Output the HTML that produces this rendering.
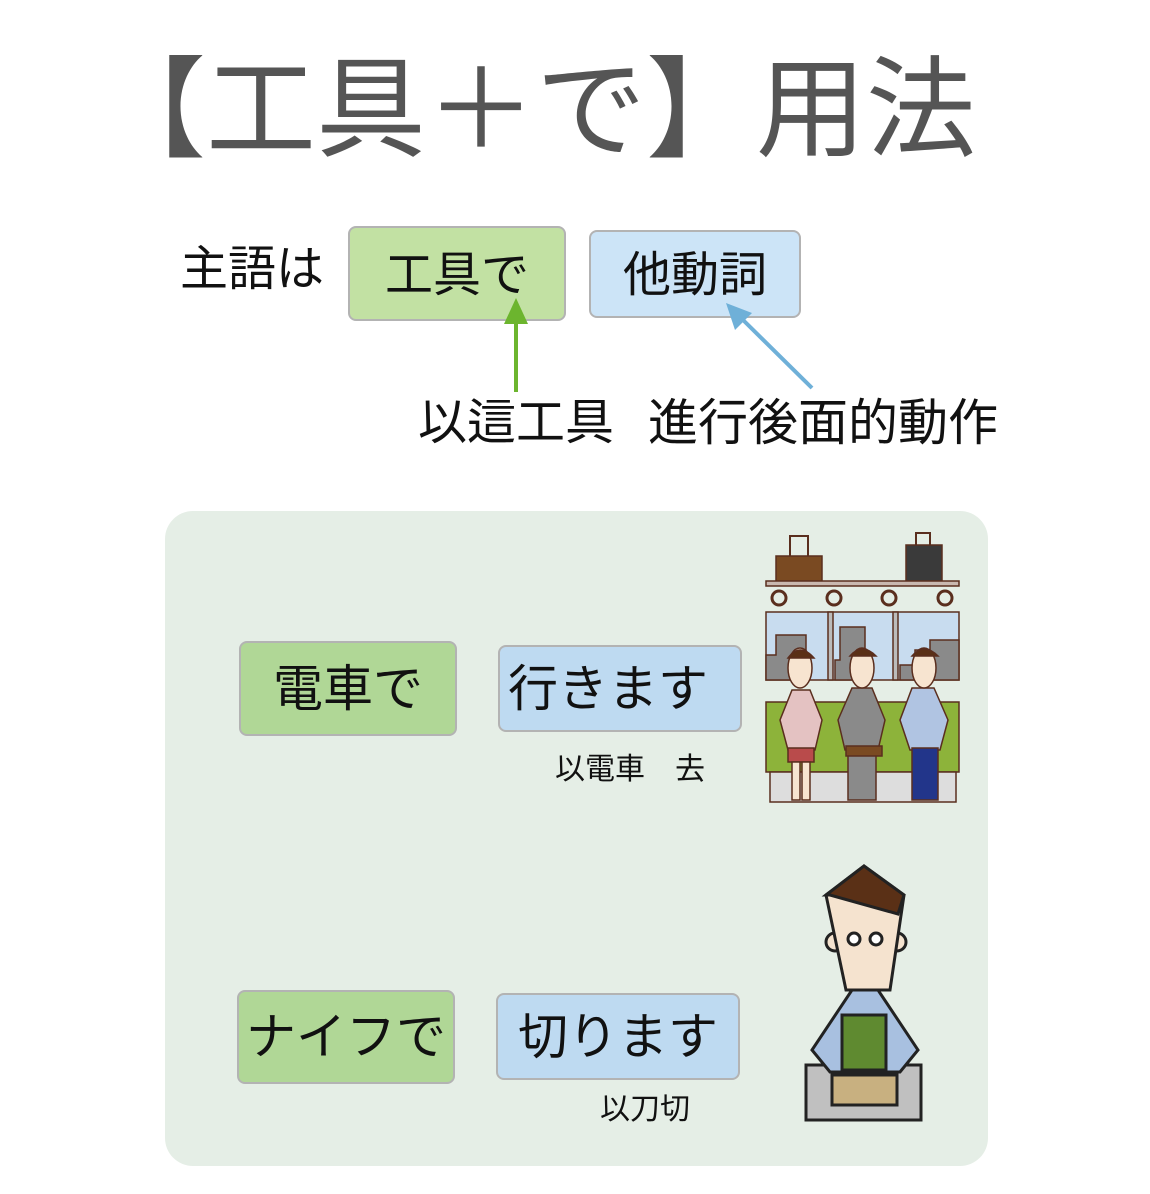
<!DOCTYPE html>
<html><head><meta charset="utf-8"><style>
body{margin:0;width:1150px;height:1194px;background:#fff;position:relative;overflow:hidden;font-family:"Liberation Sans","Noto Sans CJK JP",sans-serif;}
.a{position:absolute;white-space:nowrap;}
.box{position:absolute;box-sizing:border-box;border:2px solid #b3b3b3;border-radius:8px;display:flex;align-items:center;justify-content:center;color:#111;padding-bottom:8px;}
</style></head><body>
<div class="a" style="left:96px;top:56px;font-size:110px;line-height:110px;color:#555;">【工具＋で】用法</div>

<div class="a" style="left:180px;top:242px;font-size:48px;line-height:56px;color:#111;">主語は</div>
<div class="box" style="left:348px;top:226px;width:218px;height:95px;background:#c2e1a3;font-size:48px;">工具で</div>
<div class="box" style="left:589px;top:230px;width:212px;height:88px;background:#cce4f7;font-size:48px;">他動詞</div>

<svg class="a" style="left:0;top:0" width="1150" height="500">
<line x1="516" y1="392" x2="516" y2="318" stroke="#6cb52e" stroke-width="4"/>
<polygon points="516,298 504,324 528,324" fill="#6cb52e"/>
<line x1="812" y1="388" x2="740" y2="317" stroke="#6fb0d8" stroke-width="4"/>
<polygon points="726,303 735,330 752,313" fill="#6fb0d8"/>
</svg>
<div class="a" style="left:418px;top:394px;font-size:49px;line-height:58px;color:#111;">以這工具</div>
<div class="a" style="left:648px;top:394px;font-size:50px;line-height:58px;color:#111;">進行後面的動作</div>

<div class="a" style="left:165px;top:511px;width:823px;height:655px;background:#e5eee6;border-radius:28px;"></div>

<div class="box" style="left:239px;top:641px;width:218px;height:95px;background:#b0d796;font-size:50px;">電車で</div>
<div class="box" style="left:498px;top:645px;width:244px;height:87px;background:#bedaf1;font-size:50px;justify-content:flex-start;padding-left:8px;">行きます</div>
<div class="a" style="left:555px;top:750px;font-size:30px;line-height:40px;color:#111;">以電車　去</div>

<div class="box" style="left:237px;top:990px;width:218px;height:94px;background:#b0d796;font-size:50px;">ナイフで</div>
<div class="box" style="left:496px;top:993px;width:244px;height:87px;background:#bedaf1;font-size:50px;">切ります</div>
<div class="a" style="left:600px;top:1090px;font-size:30px;line-height:40px;color:#111;">以刀切</div>

<svg class="a" style="left:760px;top:520px" width="210" height="290">
<g stroke="#5a2e1e" stroke-width="1.5">
<path d="M30 36 v-20 h18 v20" fill="none" stroke-width="2"/>
<rect x="16" y="36" width="46" height="26" fill="#7a4a22"/>
<path d="M156 25 v-12 h14 v12" fill="none" stroke-width="2"/>
<rect x="146" y="25" width="36" height="37" fill="#3a3a3a"/>
<rect x="6" y="61" width="193" height="5" fill="#c9b8b0"/>
<circle cx="19" cy="78" r="7" fill="none" stroke-width="3"/><circle cx="74" cy="78" r="7" fill="none" stroke-width="3"/>
<circle cx="129" cy="78" r="7" fill="none" stroke-width="3"/><circle cx="185" cy="78" r="7" fill="none" stroke-width="3"/>
<rect x="6" y="92" width="193" height="68" fill="#c8dcef"/>
<path d="M6 135h10v-20h30v45H6z M75 140h5v-33h25v53H75z M140 145h15v-15h15v-10h29v40h-59z" fill="#8a8a8a"/>
<rect x="68" y="92" width="5" height="68" fill="#bbb"/><rect x="133" y="92" width="5" height="68" fill="#bbb"/>
<rect x="6" y="182" width="193" height="70" fill="#8db33a"/>
<rect x="10" y="252" width="186" height="30" fill="#ddd"/>
<polygon points="20,200 32,170 50,170 62,200 55,230 28,230" fill="#e4c2c2"/>
<rect x="28" y="228" width="26" height="14" fill="#b94b4b"/>
<rect x="32" y="242" width="8" height="38" fill="#f7e4d0"/><rect x="42" y="242" width="8" height="38" fill="#f7e4d0"/>
<polygon points="78,200 92,168 112,168 125,200 118,230 85,230" fill="#8a8a8a"/>
<rect x="88" y="230" width="28" height="50" fill="#8a8a8a"/>
<rect x="86" y="226" width="36" height="10" fill="#7a4a22"/>
<polygon points="140,200 152,168 174,168 188,200 180,230 150,230" fill="#b0c4e2"/>
<rect x="152" y="228" width="26" height="52" fill="#22358a"/>
<ellipse cx="40" cy="148" rx="12" ry="20" fill="#f7e4d0"/>
<ellipse cx="102" cy="148" rx="12" ry="20" fill="#f7e4d0"/>
<ellipse cx="164" cy="148" rx="12" ry="20" fill="#f7e4d0"/>
<path d="M28 138 q12-16 26 0z M90 136 q12-14 26 0z M152 136 q12-14 26 0z" fill="#5a3016"/>
</g>
</svg>

<svg class="a" style="left:790px;top:860px" width="150" height="270">
<g stroke="#222" stroke-width="3">
<rect x="16" y="205" width="115" height="55" fill="#c0c0c0"/>
<polygon points="22,190 62,130 88,130 128,190 110,212 40,212" fill="#a8c0e0"/>
<rect x="52" y="155" width="44" height="55" fill="#5f8a30"/>
<rect x="42" y="215" width="65" height="30" fill="#c8b080"/>
<circle cx="45" cy="82" r="9" fill="#f5e3cf"/><circle cx="107" cy="82" r="9" fill="#f5e3cf"/>
<polygon points="36,35 74,6 114,35 100,130 56,130" fill="#f5e3cf"/>
<polygon points="36,35 74,6 114,35 108,54 40,35" fill="#5a3016"/>
<circle cx="64" cy="79" r="6" fill="#fff"/><circle cx="86" cy="79" r="6" fill="#fff"/>
</g>
</svg>
</body></html>
